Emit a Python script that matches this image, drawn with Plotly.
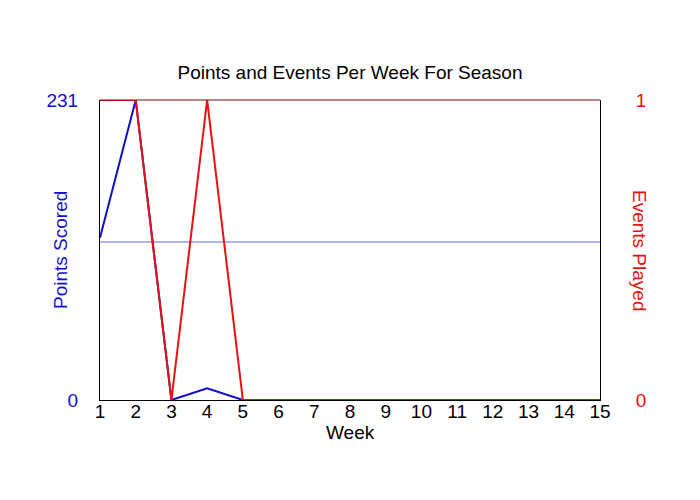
import plotly.graph_objects as go

weeks = list(range(1, 16))
points = [125, 231, 0, 9, 0, 0, 0, 0, 0, 0, 0, 0, 0, 0, 0]
events = [1, 1, 0, 1, 0, 0, 0, 0, 0, 0, 0, 0, 0, 0, 0]

played = [p for p, e in zip(points, events) if e > 0]
avg = sum(played) / len(played)

BLUE = "#1010cc"
RED = "#e81010"
FONT = "Liberation Sans, Arial, sans-serif"

fig = go.Figure()

fig.add_trace(go.Scatter(x=weeks, y=[avg] * len(weeks), mode="lines",
                         line=dict(color="#6a6ad8", width=1), yaxis="y",
                         hoverinfo="skip"))
fig.add_trace(go.Scatter(x=weeks, y=points, mode="lines",
                         line=dict(color=BLUE, width=2), yaxis="y"))
fig.add_trace(go.Scatter(x=weeks, y=events, mode="lines",
                         line=dict(color=RED, width=2), yaxis="y2"))

fig.update_layout(
    width=700, height=500,
    margin=dict(l=92, r=108, t=92, b=108),
    paper_bgcolor="white", plot_bgcolor="white",
    showlegend=False,
    font=dict(family=FONT, color="black"),
    title=dict(text="Points and Events Per Week For Season", xref="paper", x=0.5,
               xanchor="center", y=0.872, yanchor="middle",
               font=dict(size=19, color="black")),
    xaxis=dict(range=[1, 15], tickvals=weeks, showgrid=False, zeroline=False,
               showline=True, linecolor="black", linewidth=1, mirror=False,
               ticks="", ticklabelstandoff=-6, tickfont=dict(size=19, color="black")),
    yaxis=dict(range=[0, 231], tickvals=[0, 231], showgrid=False, zeroline=False,
               showline=True, linecolor="black", linewidth=1, ticks="",
               ticklabelstandoff=17, tickfont=dict(size=19, color=BLUE)),
    yaxis2=dict(range=[0, 1], tickvals=[0, 1], overlaying="y", side="right",
                showgrid=False, zeroline=False, showline=True, linecolor="black",
                linewidth=1, ticks="", ticklabelstandoff=31,
                tickfont=dict(size=19, color=RED)),
    shapes=[dict(type="line", xref="paper", yref="paper", x0=0, x1=1, y0=1, y1=1,
                 line=dict(color="#701010", width=1))],
    annotations=[
        dict(text="Week", xref="paper", yref="paper", x=0.5, y=-0.107,
             xanchor="center", yanchor="middle",
             showarrow=False, font=dict(size=19, color="black")),
        dict(text="Points Scored", xref="paper", yref="paper", x=-0.08, y=0.5,
             xanchor="center", yanchor="middle",
             textangle=-90, showarrow=False, font=dict(size=19, color=BLUE)),
        dict(text="Events Played", xref="paper", yref="paper", x=1.08, y=0.5,
             xanchor="center", yanchor="middle",
             textangle=90, showarrow=False, font=dict(size=19, color=RED)),
    ],
)

fig.write_html("out.html")
